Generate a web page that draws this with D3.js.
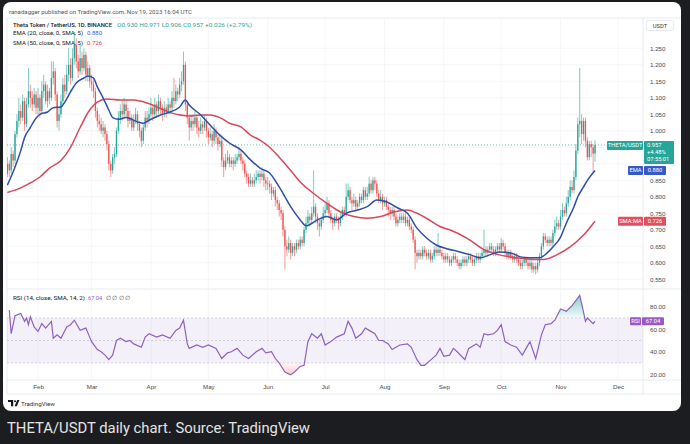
<!DOCTYPE html>
<html>
<head>
<meta charset="utf-8">
<script src="https://cdn.jsdelivr.net/npm/d3@7"></script>
<style>
html, body { margin: 0; padding: 0; background: #1c1d20; }
svg { display: block; font-family: Roboto, "Noto Sans", sans-serif; }
</style>
</head>
<body>
<svg id="chart" width="690" height="444"></svg>
<script>
// daily THETA/USDT candles, Jan 16 .. Nov 19 2023 (open = previous close)
var firstOpen = 0.87
var closes = [
  0.90, 0.88, 0.93, 0.91, 0.99, 1.03, 1.06, 1.04, 1.09, 1.02, 1.08, 1.12, 1.10, 1.08, 1.11, 1.07,
  // feb
  1.10, 1.06, 1.12, 1.14, 1.09, 1.12, 1.10, 1.16, 1.18, 1.11, 1.03, 1.05, 1.09, 1.14, 1.12, 1.17, 1.20, 1.16, 1.22, 1.26, 1.21, 1.18, 1.22, 1.19, 1.23, 1.17, 1.19, 1.15,
  // mar
  1.14, 1.12, 1.06, 1.03, 1.02, 1.00, 1.01, 0.99, 0.96, 0.90, 0.88, 0.92, 0.93, 1.00, 1.04, 1.06, 1.05, 1.08, 1.06, 1.03, 1.04, 1.01, 1.03, 1.05, 1.02, 1.00, 0.97, 1.01, 1.04, 1.03, 1.05,
  // apr
  1.07, 1.05, 1.08, 1.06, 1.09, 1.07, 1.05, 1.07, 1.06, 1.08, 1.07, 1.10, 1.09, 1.12, 1.11, 1.14, 1.15, 1.20, 1.08, 1.04, 1.01, 1.03, 1.02, 1.04, 1.01, 1.00, 1.02, 1.01, 1.03, 1.00,
  // may
  0.98, 0.99, 0.97, 1.00, 0.98, 0.96, 0.97, 0.91, 0.89, 0.91, 0.92, 0.90, 0.91, 0.90, 0.91, 0.92, 0.93, 0.91, 0.90, 0.87, 0.86, 0.84, 0.85, 0.84, 0.85, 0.86, 0.87, 0.86, 0.87, 0.85, 0.84,
  // jun
  0.84, 0.83, 0.81, 0.82, 0.79, 0.78, 0.76, 0.75, 0.70, 0.65, 0.64, 0.66, 0.63, 0.65, 0.64, 0.66, 0.65, 0.67, 0.66, 0.70, 0.72, 0.74, 0.73, 0.75, 0.77, 0.74, 0.72, 0.71, 0.73, 0.75,
  // jul
  0.76, 0.78, 0.75, 0.73, 0.72, 0.74, 0.73, 0.72, 0.74, 0.76, 0.75, 0.80, 0.82, 0.79, 0.78, 0.79, 0.77, 0.78, 0.80, 0.79, 0.82, 0.80, 0.81, 0.84, 0.82, 0.85, 0.84, 0.81, 0.79, 0.80, 0.78,
  // aug
  0.79, 0.77, 0.76, 0.75, 0.76, 0.74, 0.72, 0.73, 0.74, 0.73, 0.74, 0.72, 0.73, 0.71, 0.70, 0.67, 0.63, 0.62, 0.63, 0.62, 0.64, 0.63, 0.62, 0.63, 0.61, 0.62, 0.64, 0.63, 0.64, 0.63, 0.62,
  // sep
  0.61, 0.62, 0.61, 0.60, 0.61, 0.62, 0.61, 0.60, 0.59, 0.60, 0.61, 0.60, 0.61, 0.62, 0.61, 0.60, 0.61, 0.62, 0.61, 0.62, 0.63, 0.64, 0.63, 0.64, 0.65, 0.64, 0.63, 0.64, 0.65, 0.64,
  // oct
  0.66, 0.65, 0.63, 0.62, 0.63, 0.62, 0.61, 0.62, 0.61, 0.60, 0.59, 0.60, 0.61, 0.60, 0.59, 0.60, 0.58, 0.59, 0.58, 0.60, 0.62, 0.65, 0.68, 0.67, 0.66, 0.67, 0.66, 0.69, 0.71, 0.72, 0.71,
  // nov
  0.74, 0.76, 0.75, 0.78, 0.80, 0.83, 0.82, 0.86, 0.94, 1.02, 1.03, 0.99, 1.03, 0.97, 0.92, 0.96, 0.95, 0.931, 0.957
]
var highs = [
  0.92, 0.91, 0.95, 0.94, 1.00, 1.05, 1.10, 1.08, 1.11, 1.10, 1.10, 1.19, 1.14, 1.12, 1.13, 1.12,
  1.13, 1.11, 1.15, 1.17, 1.15, 1.14, 1.13, 1.21, 1.21, 1.19, 1.12, 1.07, 1.11, 1.16, 1.17, 1.20, 1.25, 1.22, 1.25, 1.30, 1.28, 1.23, 1.26, 1.24, 1.25, 1.24, 1.21, 1.20,
  1.17, 1.16, 1.13, 1.07, 1.05, 1.04, 1.03, 1.02, 1.00, 0.97, 0.91, 0.93, 0.95, 1.01, 1.06, 1.08, 1.09, 1.10, 1.09, 1.07, 1.06, 1.05, 1.05, 1.07, 1.06, 1.03, 1.01, 1.02, 1.06, 1.06, 1.07,
  1.10, 1.08, 1.10, 1.09, 1.11, 1.10, 1.08, 1.09, 1.08, 1.10, 1.09, 1.12, 1.16, 1.14, 1.13, 1.16, 1.18, 1.24, 1.21, 1.09, 1.05, 1.05, 1.05, 1.06, 1.05, 1.03, 1.04, 1.03, 1.05, 1.04,
  1.01, 1.01, 1.00, 1.02, 1.01, 0.99, 0.99, 0.98, 0.92, 0.93, 0.94, 0.93, 0.92, 0.92, 0.93, 0.93, 0.95, 0.94, 0.92, 0.91, 0.88, 0.87, 0.87, 0.86, 0.87, 0.88, 0.88, 0.88, 0.89, 0.88, 0.86,
  0.86, 0.85, 0.84, 0.83, 0.83, 0.80, 0.79, 0.77, 0.76, 0.71, 0.67, 0.68, 0.67, 0.66, 0.66, 0.67, 0.67, 0.68, 0.68, 0.71, 0.74, 0.76, 0.75, 0.77, 0.88, 0.78, 0.75, 0.73, 0.74, 0.77,
  0.78, 0.80, 0.79, 0.76, 0.74, 0.75, 0.75, 0.74, 0.75, 0.77, 0.77, 0.84, 0.84, 0.83, 0.80, 0.81, 0.80, 0.79, 0.81, 0.81, 0.83, 0.83, 0.83, 0.86, 0.85, 0.86, 0.86, 0.85, 0.82, 0.82, 0.81,
  0.80, 0.80, 0.78, 0.77, 0.77, 0.77, 0.75, 0.74, 0.75, 0.75, 0.75, 0.75, 0.74, 0.74, 0.72, 0.71, 0.68, 0.64, 0.64, 0.64, 0.65, 0.65, 0.64, 0.64, 0.64, 0.63, 0.65, 0.65, 0.69, 0.65, 0.64,
  0.63, 0.63, 0.63, 0.62, 0.62, 0.63, 0.63, 0.62, 0.61, 0.61, 0.62, 0.62, 0.62, 0.63, 0.63, 0.62, 0.62, 0.63, 0.63, 0.63, 0.64, 0.70, 0.65, 0.65, 0.66, 0.66, 0.65, 0.65, 0.66, 0.66,
  0.675, 0.67, 0.66, 0.64, 0.64, 0.64, 0.63, 0.63, 0.63, 0.62, 0.61, 0.61, 0.62, 0.62, 0.61, 0.61, 0.61, 0.60, 0.60, 0.61, 0.63, 0.66, 0.69, 0.69, 0.68, 0.68, 0.68, 0.70, 0.73, 0.74, 0.73,
  0.76, 0.78, 0.77, 0.80, 0.82, 0.85, 0.85, 0.88, 0.96, 1.04, 1.19, 1.05, 1.04, 1.04, 0.98, 0.97, 0.97, 0.96, 0.971
]
var lows = [
  0.86, 0.86, 0.87, 0.89, 0.90, 0.98, 1.01, 1.02, 1.03, 1.00, 1.01, 1.07, 1.07, 1.06, 1.07, 1.05,
  1.05, 1.04, 1.05, 1.10, 1.08, 1.07, 1.08, 1.09, 1.14, 1.09, 1.01, 1.00, 1.04, 1.08, 1.10, 1.11, 1.15, 1.14, 1.15, 1.20, 1.19, 1.16, 1.17, 1.17, 1.18, 1.15, 1.15, 1.13,
  1.12, 1.10, 1.04, 1.01, 1.00, 0.99, 0.98, 0.97, 0.94, 0.88, 0.86, 0.87, 0.90, 0.92, 0.99, 1.02, 1.03, 1.04, 1.04, 1.01, 1.02, 1.00, 1.00, 1.02, 1.00, 0.98, 0.95, 0.96, 1.00, 1.01, 1.02,
  1.04, 1.03, 1.04, 1.04, 1.05, 1.05, 1.03, 1.04, 1.04, 1.05, 1.05, 1.06, 1.07, 1.08, 1.09, 1.10, 1.12, 1.14, 1.06, 1.02, 0.97, 1.00, 1.00, 1.01, 0.99, 0.98, 0.99, 0.99, 1.00, 0.98,
  0.96, 0.97, 0.95, 0.96, 0.96, 0.94, 0.95, 0.89, 0.86, 0.88, 0.90, 0.89, 0.89, 0.88, 0.89, 0.90, 0.91, 0.90, 0.88, 0.86, 0.84, 0.83, 0.83, 0.83, 0.83, 0.84, 0.85, 0.84, 0.85, 0.83, 0.82,
  0.82, 0.81, 0.79, 0.80, 0.77, 0.76, 0.74, 0.73, 0.68, 0.58, 0.62, 0.63, 0.61, 0.62, 0.62, 0.63, 0.64, 0.64, 0.65, 0.65, 0.69, 0.71, 0.71, 0.72, 0.74, 0.72, 0.70, 0.68, 0.70, 0.72,
  0.74, 0.75, 0.74, 0.72, 0.70, 0.71, 0.72, 0.70, 0.71, 0.73, 0.74, 0.74, 0.79, 0.78, 0.76, 0.77, 0.76, 0.76, 0.77, 0.78, 0.78, 0.79, 0.79, 0.80, 0.81, 0.81, 0.82, 0.80, 0.78, 0.78, 0.76,
  0.77, 0.76, 0.74, 0.73, 0.74, 0.73, 0.71, 0.71, 0.72, 0.72, 0.72, 0.71, 0.71, 0.70, 0.69, 0.66, 0.58, 0.60, 0.61, 0.61, 0.61, 0.62, 0.61, 0.61, 0.60, 0.60, 0.61, 0.62, 0.62, 0.62, 0.61,
  0.60, 0.60, 0.60, 0.59, 0.59, 0.60, 0.60, 0.59, 0.58, 0.58, 0.59, 0.59, 0.59, 0.60, 0.60, 0.59, 0.59, 0.60, 0.60, 0.60, 0.61, 0.62, 0.62, 0.62, 0.63, 0.63, 0.62, 0.62, 0.63, 0.63,
  0.63, 0.64, 0.62, 0.61, 0.61, 0.61, 0.60, 0.60, 0.60, 0.59, 0.58, 0.58, 0.59, 0.59, 0.58, 0.58, 0.57, 0.57, 0.565, 0.57, 0.59, 0.61, 0.64, 0.66, 0.65, 0.65, 0.65, 0.65, 0.68, 0.70, 0.70,
  0.70, 0.73, 0.74, 0.74, 0.77, 0.79, 0.81, 0.81, 0.85, 0.93, 0.98, 0.96, 0.97, 0.95, 0.91, 0.91, 0.92, 0.875, 0.906
]

// indicator lines (day index from Jan 16, value)
var emaDay = [0, 4, 7, 9, 12, 14, 17, 21, 24, 28, 30, 33, 36, 40, 42, 45, 47, 50, 53, 55, 58, 62, 68, 71, 75, 80, 85, 90, 93, 95,
  101, 106, 111, 116, 122, 127, 132, 137, 142, 148, 153, 156, 162, 167, 172, 177, 183, 188, 193, 198, 204, 209, 214, 219, 224, 230, 235, 242, 247, 252,
  257, 263, 268, 273, 278, 282, 285, 289, 292, 296, 298, 301, 303, 307]
var emaVal = [0.835, 0.89, 0.94, 0.98, 1.01, 1.03, 1.05, 1.057, 1.07, 1.072, 1.087, 1.118, 1.145, 1.16, 1.166, 1.16, 1.133, 1.10, 1.063, 1.04,
  1.035, 1.04, 1.027, 1.023, 1.035, 1.048, 1.057, 1.072, 1.093, 1.078, 1.048, 1.017, 0.987, 0.963, 0.942, 0.912, 0.887, 0.872, 0.83, 0.77,
  0.73, 0.712, 0.73, 0.74, 0.73, 0.75, 0.76, 0.77, 0.79, 0.785, 0.766, 0.75, 0.705, 0.675, 0.654, 0.642, 0.635, 0.624, 0.615, 0.624,
  0.633, 0.63, 0.618, 0.615, 0.615, 0.63, 0.648, 0.678, 0.72, 0.77, 0.80, 0.83, 0.85, 0.88]
var smaDay = [0, 7, 12, 17, 22, 28, 33, 38, 43, 47, 52, 59, 66, 73, 79, 85, 95, 101, 106, 111, 116, 122, 127, 132, 137, 142, 148, 153, 160, 167,
  174, 181, 188, 195, 202, 209, 214, 219, 226, 231, 240, 249, 257, 266, 275, 280, 287, 294, 301, 307]
var smaVal = [0.813, 0.827, 0.842, 0.86, 0.887, 0.91, 0.95, 1.01, 1.063, 1.087, 1.096, 1.093, 1.093, 1.084, 1.07, 1.055, 1.045, 1.048, 1.048, 1.04,
  1.023, 1.012, 0.987, 0.972, 0.95, 0.92, 0.88, 0.845, 0.81, 0.78, 0.754, 0.74, 0.735, 0.74, 0.754, 0.76, 0.75, 0.735, 0.71, 0.70,
  0.675, 0.64, 0.624, 0.615, 0.61, 0.61, 0.624, 0.648, 0.684, 0.726]
var rsiDay = [1, 2, 4, 7, 9, 10, 11, 12, 14, 16, 18, 20, 23, 24, 26, 28, 31, 33, 35, 38, 41, 43, 44, 47, 49, 51, 53, 55, 57, 59,
  62, 64, 66, 70, 72, 74, 78, 81, 85, 88, 90, 92, 94, 95, 99, 102, 105, 109, 112, 115, 117, 120, 123, 126, 130, 133, 135, 138, 140, 142,
  145, 148, 150, 153, 155, 157, 159, 162, 164, 166, 169, 172, 176, 178, 180, 182, 185, 187, 189, 192, 194, 196, 199, 201, 203, 205, 209, 211, 214, 216,
  218, 220, 224, 226, 228, 231, 233, 235, 239, 241, 245, 247, 249, 251, 254, 256, 258, 260, 263, 266, 269, 271, 273, 276, 279, 281, 284, 286, 289, 292,
  295, 299, 300, 302, 303, 306, 307]
var rsiVal = [77, 56, 72, 74, 67, 70, 64, 71, 62, 58, 65, 61, 67, 52, 55, 52, 62, 64, 68, 59, 61, 53, 49, 42, 40, 37, 33, 37, 50, 52,
  49, 50, 47, 44, 53, 56, 53, 55, 52, 59, 61, 68, 47, 43, 46, 44, 46, 43, 34, 39, 40, 43, 37, 34, 40, 43, 39, 40, 34, 30,
  22, 19.5, 22, 27, 28, 49, 56, 52, 56, 46, 49, 53, 56, 67, 61, 52, 56, 61, 59, 56, 50, 50, 47, 42, 44, 46, 47, 44, 33, 28,
  28, 31, 37, 43, 36, 37, 43, 40, 33, 43, 47, 44, 56, 55, 56, 59, 64, 49, 46, 44, 37, 43, 49, 34, 55, 64, 65, 68, 78, 76,
  81, 90, 83, 67, 70, 65, 67.04]

var priceTicks = [0.55, 0.60, 0.65, 0.70, 0.75, 0.80, 0.85, 0.90, 0.95, 1.00, 1.05, 1.10, 1.15, 1.20, 1.25]
var hiddenTicks = [0.90, 0.95]
var rsiTicks = [20, 40, 60, 80]
var rsiLevels = [70, 50, 30]

var W = 690, H = 444
var paneL = 7, paneR = 643, paneTop = 18, priceBottom = 289, rsiBottom = 380, axisBottom = 394
var up = "#26a69a", down = "#ef5350", emaColor = "#2d4fa8", smaColor = "#d9475a", rsiColor = "#8e60c0"
var grey = "#4a4a4a"

var start = Date.UTC(2023, 0, 16)
var oneDay = 864e5
function dayDate(i) { return new Date(start + i * oneDay) }

var candles = closes.map((c, i) => ({
    date: dayDate(i),
    open: i == 0 ? firstOpen : closes[i - 1],
    high: highs[i],
    low: lows[i],
    close: c
}))

var x = d3.scaleUtc()
    .domain([new Date(Date.UTC(2023, 1, 1)), new Date(Date.UTC(2023, 11, 1))])
    .range([38, 618])
var y = d3.scaleLinear().domain([0.55, 1.25]).range([279.3, 48.3])
var yr = d3.scaleLinear().domain([20, 80]).range([374.3, 306.7])
var months = d3.utcMonth.range(new Date(Date.UTC(2023, 1, 1)), new Date(Date.UTC(2023, 11, 2)))

const svg = d3.select("#chart")

svg.append("rect").attr("width", W).attr("height", H).attr("fill", "#1c1d20")
svg.append("rect")
    .attr("x", 3).attr("y", 2).attr("width", 678).attr("height", 409).attr("rx", 8)
    .attr("fill", "#ffffff")

var defs = svg.append("defs")
defs.append("clipPath").attr("id", "priceClip").append("rect")
    .attr("x", paneL).attr("y", paneTop).attr("width", paneR - paneL).attr("height", priceBottom - paneTop)
defs.append("clipPath").attr("id", "rsiClip").append("rect")
    .attr("x", paneL).attr("y", priceBottom).attr("width", paneR - paneL).attr("height", rsiBottom - priceBottom)
defs.append("clipPath").attr("id", "obClip").append("rect")
    .attr("x", paneL).attr("y", priceBottom).attr("width", paneR - paneL).attr("height", yr(70) - priceBottom)
defs.append("clipPath").attr("id", "osClip").append("rect")
    .attr("x", paneL).attr("y", yr(30)).attr("width", paneR - paneL).attr("height", rsiBottom - yr(30))

var obGrad = defs.append("linearGradient").attr("id", "obGrad")
    .attr("gradientUnits", "userSpaceOnUse").attr("x1", 0).attr("x2", 0).attr("y1", yr(90)).attr("y2", yr(70))
obGrad.append("stop").attr("offset", 0).attr("stop-color", "#26a69a").attr("stop-opacity", 0.55)
obGrad.append("stop").attr("offset", 1).attr("stop-color", "#26a69a").attr("stop-opacity", 0.05)
var osGrad = defs.append("linearGradient").attr("id", "osGrad")
    .attr("gradientUnits", "userSpaceOnUse").attr("x1", 0).attr("x2", 0).attr("y1", yr(30)).attr("y2", yr(15))
osGrad.append("stop").attr("offset", 0).attr("stop-color", "#ef5350").attr("stop-opacity", 0.05)
osGrad.append("stop").attr("offset", 1).attr("stop-color", "#ef5350").attr("stop-opacity", 0.4)

// header
svg.append("text")
    .attr("x", 9).attr("y", 13.5)
    .attr("font-size", 6).attr("fill", "#555")
    .attr("textLength", 183).attr("lengthAdjust", "spacingAndGlyphs")
    .text("ranadagger published on TradingView.com, Nov 19, 2023 16:04 UTC")

// frame and grid
var frame = svg.append("g").attr("fill", "none").attr("stroke", "#e0e3eb").attr("stroke-width", 0.7)
frame.append("line").attr("x1", paneL).attr("x2", 681).attr("y1", paneTop).attr("y2", paneTop)
frame.append("line").attr("x1", paneL).attr("x2", 681).attr("y1", priceBottom).attr("y2", priceBottom)
frame.append("line").attr("x1", paneL).attr("x2", 681).attr("y1", rsiBottom).attr("y2", rsiBottom)
frame.append("line").attr("x1", paneL).attr("x2", 681).attr("y1", axisBottom).attr("y2", axisBottom)
frame.append("line").attr("x1", paneL).attr("x2", paneL).attr("y1", paneTop).attr("y2", axisBottom)
frame.append("line").attr("x1", paneR).attr("x2", paneR).attr("y1", paneTop).attr("y2", axisBottom)

var grid = svg.append("g").attr("stroke", "#f0f2f6").attr("stroke-width", 0.7)
grid.selectAll(".vg").data(months).join("line")
    .attr("x1", d => x(d)).attr("x2", d => x(d))
    .attr("y1", paneTop).attr("y2", rsiBottom)
grid.selectAll(".hg").data(priceTicks).join("line")
    .attr("x1", paneL).attr("x2", paneR)
    .attr("y1", d => y(d)).attr("y2", d => y(d))

// RSI band and levels
svg.append("rect")
    .attr("x", paneL).attr("width", paneR - paneL)
    .attr("y", yr(70)).attr("height", yr(30) - yr(70))
    .attr("fill", "#7e57c2").attr("fill-opacity", 0.09)
svg.append("g").selectAll("line").data(rsiLevels).join("line")
    .attr("x1", paneL).attr("x2", paneR)
    .attr("y1", d => yr(d)).attr("y2", d => yr(d))
    .attr("stroke", "#9598a1").attr("stroke-opacity", 0.6)
    .attr("stroke-width", 0.6).attr("stroke-dasharray", "2,2")

// current price dotted line
var lastPrice = closes[closes.length - 1]
svg.append("line")
    .attr("x1", paneL).attr("x2", paneR)
    .attr("y1", y(lastPrice)).attr("y2", y(lastPrice))
    .attr("stroke", up).attr("stroke-width", 0.7).attr("stroke-dasharray", "1,2")

// candles
var cg = svg.append("g").attr("clip-path", "url(#priceClip)")
cg.selectAll(".wick").data(candles).join("line")
    .attr("x1", d => x(d.date)).attr("x2", d => x(d.date))
    .attr("y1", d => y(d.high)).attr("y2", d => y(d.low))
    .attr("stroke", d => d.close >= d.open ? up : down)
    .attr("stroke-width", 0.6)
cg.selectAll(".body").data(candles).join("rect")
    .attr("x", d => x(d.date) - 0.65)
    .attr("width", 1.3)
    .attr("y", d => y(Math.max(d.open, d.close)))
    .attr("height", d => Math.max(0.7, Math.abs(y(d.open) - y(d.close))))
    .attr("fill", d => d.close >= d.open ? up : down)

// EMA / SMA
function addLine(days, vals, color) {
    var pts = days.map((d, k) => ({ date: dayDate(d), v: vals[k] }))
    cg.append("path")
        .datum(pts)
        .attr("fill", "none")
        .attr("stroke", color)
        .attr("stroke-width", 1.5)
        .attr("d", d3.line().curve(d3.curveMonotoneX).x(d => x(d.date)).y(d => y(d.v)))
}
addLine(smaDay, smaVal, smaColor)
addLine(emaDay, emaVal, emaColor)

// RSI
var rsiPts = rsiDay.map((d, k) => ({ date: dayDate(d), v: rsiVal[k] }))
var rg = svg.append("g").attr("clip-path", "url(#rsiClip)")
rg.append("g").attr("clip-path", "url(#obClip)")
    .append("path").datum(rsiPts)
    .attr("fill", "url(#obGrad)")
    .attr("d", d3.area().x(d => x(d.date)).y0(yr(70)).y1(d => yr(d.v)))
rg.append("g").attr("clip-path", "url(#osClip)")
    .append("path").datum(rsiPts)
    .attr("fill", "url(#osGrad)")
    .attr("d", d3.area().x(d => x(d.date)).y0(yr(30)).y1(d => yr(d.v)))
rg.append("path").datum(rsiPts)
    .attr("fill", "none")
    .attr("stroke", rsiColor)
    .attr("stroke-width", 1.2)
    .attr("d", d3.line().x(d => x(d.date)).y(d => yr(d.v)))

// axes
function styleAxis(g) {
    g.select(".domain").remove()
    g.selectAll("text").attr("fill", grey).attr("font-size", 6.2)
}
svg.append("g")
    .attr("transform", "translate(" + paneR + ",0)")
    .call(d3.axisRight(y)
        .tickValues(priceTicks.filter(t => hiddenTicks.indexOf(t) < 0))
        .tickFormat(d3.format(".3f")).tickSize(0).tickPadding(7))
    .call(styleAxis)
svg.append("g")
    .attr("transform", "translate(" + paneR + ",0)")
    .call(d3.axisRight(yr).tickValues(rsiTicks).tickFormat(d3.format(".2f")).tickSize(0).tickPadding(7))
    .call(styleAxis)
svg.append("g")
    .attr("transform", "translate(0," + rsiBottom + ")")
    .call(d3.axisBottom(x).tickValues(months).tickFormat(d3.utcFormat("%b")).tickSize(0).tickPadding(5))
    .call(styleAxis)

// USDT box
svg.append("rect").attr("x", 646.5).attr("y", 20.5).attr("width", 27).attr("height", 10).attr("rx", 1.5)
    .attr("fill", "#fff").attr("stroke", "#e0e3eb").attr("stroke-width", 0.7)
svg.append("text").attr("x", 660).attr("y", 27.6).attr("text-anchor", "middle")
    .attr("font-size", 5.8).attr("fill", "#333").text("USDT")

// legend
var lg = svg.append("g").attr("font-size", 6)
lg.append("text").attr("x", 13).attr("y", 26.5).attr("fill", "#131722").attr("font-weight", 500)
    .attr("textLength", 99).attr("lengthAdjust", "spacingAndGlyphs")
    .text("Theta Token / TetherUS, 1D, BINANCE")
lg.append("text").attr("x", 117).attr("y", 26.5).attr("fill", up)
    .attr("textLength", 135).attr("lengthAdjust", "spacingAndGlyphs")
    .text("O0.930 H0.971 L0.906 C0.957 +0.026 (+2.79%)")
lg.append("text").attr("x", 13).attr("y", 35.3).attr("fill", "#131722")
    .attr("textLength", 70).attr("lengthAdjust", "spacingAndGlyphs")
    .text("EMA (20, close, 0, SMA, 5)")
lg.append("text").attr("x", 87).attr("y", 35.3).attr("fill", "#2962ff").text(emaVal[emaVal.length - 1].toFixed(3))
lg.append("text").attr("x", 13).attr("y", 44.5).attr("fill", "#131722")
    .attr("textLength", 70).attr("lengthAdjust", "spacingAndGlyphs")
    .text("SMA (50, close, 0, SMA, 5)")
lg.append("text").attr("x", 87).attr("y", 44.5).attr("fill", "#f23645").text(smaVal[smaVal.length - 1].toFixed(3))
lg.append("text").attr("x", 13).attr("y", 299.5).attr("fill", "#131722").attr("font-size", 5.6)
    .attr("textLength", 72).attr("lengthAdjust", "spacingAndGlyphs")
    .text("RSI (14, close, SMA, 14, 2)")
lg.append("text").attr("x", 88).attr("y", 299.5).attr("fill", rsiColor).attr("font-size", 5.6)
    .text(rsiVal[rsiVal.length - 1].toFixed(2))
lg.append("text").attr("x", 106).attr("y", 299.5).attr("fill", "#555").attr("font-size", 5.6)
    .text("∅ ∅ ∅ ∅")

// right-side badges
function badge(x0, yc, w, h, color, txt) {
    svg.append("rect").attr("x", x0).attr("y", yc - h / 2).attr("width", w).attr("height", h).attr("rx", 1)
        .attr("fill", color)
    svg.append("text").attr("x", x0 + w / 2).attr("y", yc + 2).attr("text-anchor", "middle")
        .attr("font-size", 5.8).attr("fill", "#fff").text(txt)
}
var py = y(lastPrice)
badge(607, py + 0.5, 36, 9, up, "THETA/USDT")
svg.append("rect").attr("x", 644).attr("y", py - 4).attr("width", 30).attr("height", 23).attr("rx", 1).attr("fill", up)
svg.append("text").attr("x", 647).attr("y", py + 2.3).attr("font-size", 5.8).attr("fill", "#fff").text(lastPrice.toFixed(3))
svg.append("text").attr("x", 647).attr("y", py + 9.3).attr("font-size", 5.8).attr("fill", "#fff").text("+4.48%")
svg.append("text").attr("x", 647).attr("y", py + 16.3).attr("font-size", 5.8).attr("fill", "#fff").text("07:55:01")

var emaLast = emaVal[emaVal.length - 1], smaLast = smaVal[smaVal.length - 1]
badge(628, y(emaLast), 15, 9, "#3659c9", "EMA")
badge(644, y(emaLast), 22, 9, "#3659c9", emaLast.toFixed(3))
badge(618, y(smaLast), 25, 9, "#e0505e", "SMA:MA")
badge(644, y(smaLast), 22, 9, "#e0505e", smaLast.toFixed(3))
var rsiLast = rsiVal[rsiVal.length - 1]
badge(630, yr(rsiLast), 11, 8, "#9b59c6", "RSI")
badge(642, yr(rsiLast), 22, 8, "#9b59c6", rsiLast.toFixed(2))

// TradingView mark
var tv = svg.append("g").attr("fill", "#131722")
tv.append("path").attr("d", "M8 400h5.2v6.2h-2.2v-4.1h-3z")
tv.append("circle").attr("cx", 15).attr("cy", 401.2).attr("r", 1)
tv.append("path").attr("d", "M14.6 406.2l2.6-6.2h2.2l-2.6 6.2z")
svg.append("text").attr("x", 21).attr("y", 405.8).attr("font-size", 6).attr("fill", "#333")
    .attr("textLength", 34).attr("lengthAdjust", "spacingAndGlyphs")
    .text("TradingView")

// caption
svg.append("text")
    .attr("x", 7).attr("y", 432.5)
    .attr("font-size", 14).attr("fill", "#e4e4e4")
    .attr("textLength", 303).attr("lengthAdjust", "spacingAndGlyphs")
    .text("THETA/USDT daily chart. Source: TradingView")
</script>
</body>
</html>
